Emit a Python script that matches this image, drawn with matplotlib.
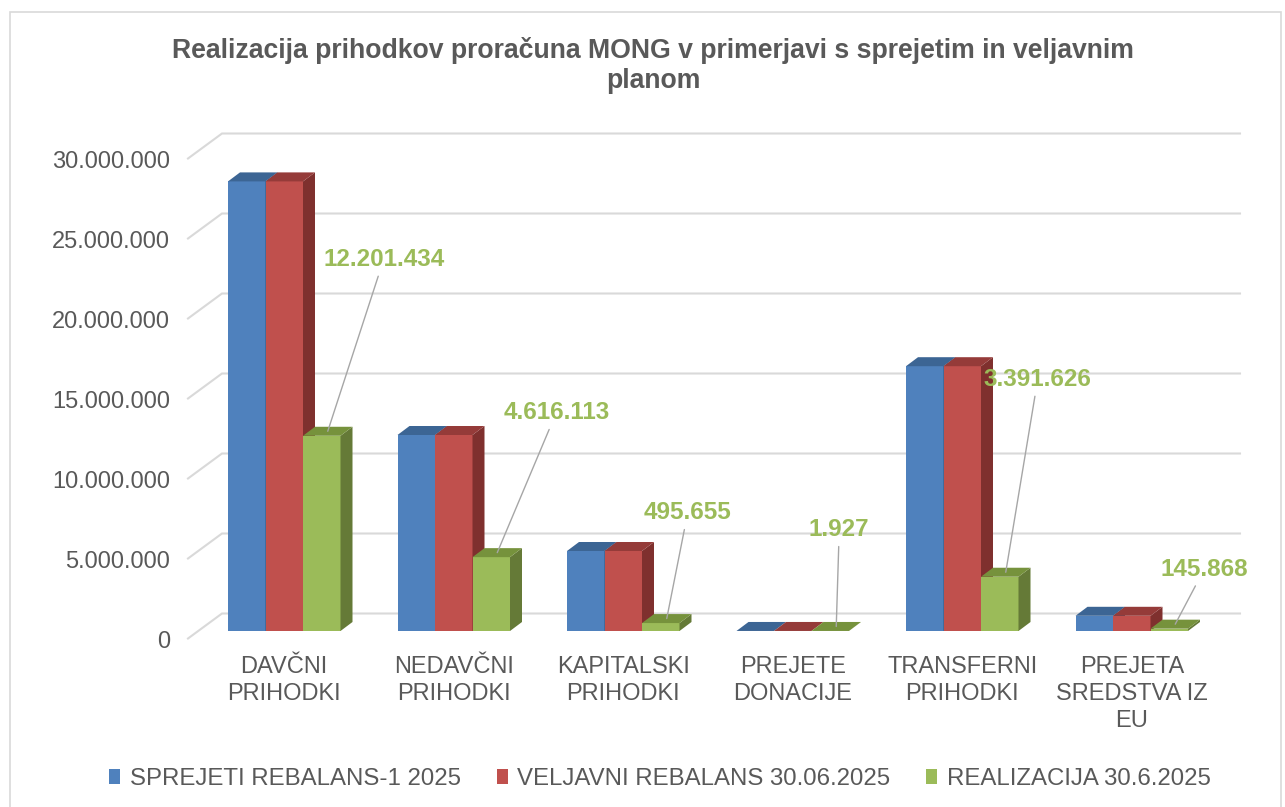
import numpy as np
import matplotlib
matplotlib.use("Agg")
import matplotlib.pyplot as plt
from matplotlib.patches import Polygon, Rectangle

plt.rcParams["font.family"] = ["Liberation Sans", "DejaVu Sans"]

# --- Data ---
categories = ["DAVČNI\nPRIHODKI", "NEDAVČNI\nPRIHODKI", "KAPITALSKI\nPRIHODKI",
              "PREJETE\nDONACIJE", "TRANSFERNI\nPRIHODKI", "PREJETA\nSREDSTVA IZ\nEU"]
series_names = ["SPREJETI REBALANS-1 2025", "VELJAVNI REBALANS 30.06.2025", "REALIZACIJA 30.6.2025"]
sprejeti = [28100000, 12250000, 5000000, 2000, 16550000, 950000]
veljavni = [28100000, 12250000, 5000000, 2000, 16550000, 950000]
realizacija = [12201434, 4616113, 495655, 1927, 3391626, 145868]
yticks = [0, 5000000, 10000000, 15000000, 20000000, 25000000, 30000000]

front_cols = ["#4F81BD", "#C0504D", "#9BBB59"]
top_cols = ["#3C6594", "#953B39", "#76923C"]
side_cols = ["#35567F", "#7F302E", "#657A37"]
grey = "#595959"
grid_col = "#D9D9D9"

# pixel geometry of the fake 3D box (1 x unit = one category, y in values)
W, H = 1285, 807
px_x = 169.5            # pixels per category
px_y = 16.0 / 1e6       # pixels per unit value
x0_pix, y0_pix = 284.25, 176  # category 0 centre, value 0 (from bottom)

def dx(p):
    return p / px_x

def dy(p):
    return p / px_y

fig = plt.figure(figsize=(W / 100, H / 100), dpi=100)
ax = fig.add_axes([0, 0, 1, 1])
ax.set_xlim(-x0_pix / px_x, (W - x0_pix) / px_x)
ax.set_ylim(-y0_pix / px_y, (H - y0_pix) / px_y)
ax.axis("off")

# outer chart border
fig.patches.append(Rectangle((10 / W, -0.02), 1271 / W, (H - 12) / H + 0.02,
                             transform=fig.transFigure, fill=False,
                             edgecolor=grid_col, lw=1.2))

# --- gridlines: front diagonal + back wall ---
front_x, back_x, right_x = dx(188 - x0_pix), dx(222 - x0_pix), dx(1240 - x0_pix)
f_off, b_off = dy(-7.5), dy(17.5)
for v in yticks:
    ax.plot([front_x, back_x, right_x], [v + f_off, v + b_off, v + b_off],
            color=grid_col, lw=1.5, zorder=1, solid_joinstyle="miter")
    ax.text(dx(170 - x0_pix), v + dy(-10.5), f"{v:,}".replace(",", "."),
            ha="right", va="center", fontsize=17, color=grey)

# --- bars ---
w = dx(37.5)
bdx, bdy = dx(12), dy(9)
x = np.arange(len(categories))
handles = []
for k, vals in enumerate([sprejeti, veljavni, realizacija]):
    left = x + (k - 1.5) * w
    bc = ax.bar(left, vals, width=w, align="edge", color=front_cols[k],
                lw=0, zorder=3 + k, label=series_names[k])
    handles.append(bc)
    for xl, v in zip(left, vals):
        top = [(xl, v), (xl + w, v), (xl + w + bdx, v + bdy), (xl + bdx, v + bdy)]
        side = [(xl + w, 0), (xl + w, v), (xl + w + bdx, v + bdy), (xl + w + bdx, bdy)]
        ax.add_patch(Polygon(top, closed=True, color=top_cols[k], lw=0, zorder=3.2 + k))
        ax.add_patch(Polygon(side, closed=True, color=side_cols[k], lw=0, zorder=3.1 + k))

# category labels
for i, c in enumerate(categories):
    ax.text(i, dy(-25), c, ha="center", va="top", fontsize=17, color=grey,
            linespacing=1.3)

# data labels for realizacija with leader lines
label_offsets = [(56, 172), (59, 140), (21, 106), (3, 97), (32, 193), (29, 55)]
for i, v in enumerate(realizacija):
    gx = i + 0.5 * w + w / 2 + bdx / 2
    gy = v + bdy / 2
    ax.annotate(f"{v:,}".replace(",", "."), xy=(gx, gy),
                xytext=label_offsets[i], textcoords="offset pixels",
                ha="center", va="center", fontsize=17.5, fontweight="bold",
                color="#9BBB59", zorder=10,
                arrowprops=dict(arrowstyle="-", color="#A6A6A6", lw=1,
                                shrinkA=2, shrinkB=0))

# title
fig.text(653 / W, 1 - 66 / H,
         "Realizacija prihodkov proračuna MONG v primerjavi s sprejetim in veljavnim\nplanom",
         ha="center", va="center", fontsize=19.2, fontweight="bold", color=grey,
         linespacing=1.2)

# legend
fig.legend(handles=handles, loc="center", bbox_to_anchor=(660 / W, 1 - 779 / H),
           ncol=3, frameon=False, fontsize=17.3, handlelength=0.45,
           handleheight=0.6, handletextpad=0.4, columnspacing=1.5,
           labelcolor=grey)

fig.savefig("out.png", dpi=100)
